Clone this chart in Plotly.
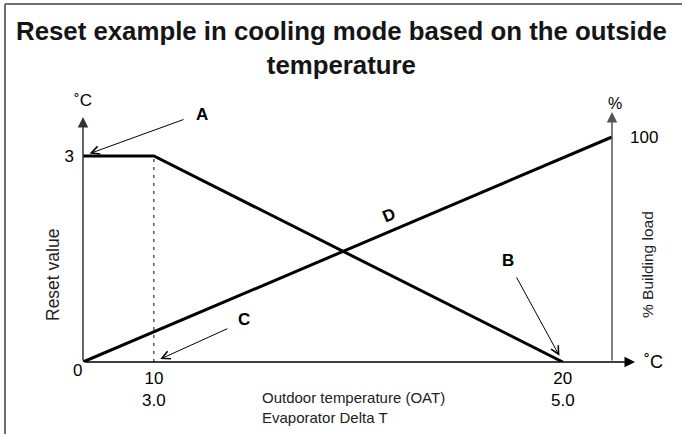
import plotly.graph_objects as go

# Reset schedule (primary axis, degC) against schematic OAT position
reset_x = [0, 13.4, 90.7]
reset_y = [3, 3, 0]

# Building load (secondary axis, %) against the same schematic position
load_x = [0, 100]
load_y = [0, 100]

# Tick labels under the OAT breakpoints
oat_labels = ["10", "20"]
delta_t_labels = ["3.0", "5.0"]

reset_ticks = [3]
load_ticks = [100]

X_END = 104.35      # tip of the horizontal arrow
Y_END = 3.568       # tip of the left arrow (degC scale)
Y2_END = 111.1      # tip of the right arrow (% scale)

FONT = "Liberation Sans, Arial, Helvetica, sans-serif"

fig = go.Figure()

# Dashed guide at the first breakpoint
fig.add_trace(go.Scatter(
    x=[reset_x[1], reset_x[1]], y=[0, reset_y[1]],
    mode="lines", line=dict(color="black", width=1, dash="3px,5px"),
    hoverinfo="skip", showlegend=False))

fig.add_trace(go.Scatter(
    x=reset_x, y=reset_y, mode="lines",
    line=dict(color="black", width=3), showlegend=False))

fig.add_trace(go.Scatter(
    x=load_x, y=load_y, mode="lines", yaxis="y2",
    line=dict(color="black", width=3), showlegend=False))

tick_text = [f"{a}<br>{b}" for a, b in zip(oat_labels, delta_t_labels)]

fig.update_layout(
    width=682, height=434, autosize=False,
    margin=dict(l=83, r=47, t=100, b=72, pad=0),
    paper_bgcolor="white", plot_bgcolor="white",
    font=dict(family=FONT, color="black"),
    xaxis=dict(range=[0, X_END], showgrid=False, zeroline=False, showline=False,
               tickvals=reset_x[1:], ticktext=tick_text, ticks="",
               ticklabelstandoff=4,
               tickfont=dict(size=17), automargin=False, fixedrange=True),
    yaxis=dict(range=[0, 262 / 68.667], showgrid=False, zeroline=False, showline=False,
               tickvals=reset_ticks, ticktext=[str(v) for v in reset_ticks], ticks="",
               ticklabelstandoff=8,
               tickfont=dict(size=17), automargin=False),
    yaxis2=dict(range=[0, 262 / 2.25], overlaying="y", anchor="free",
                position=100 / X_END, side="right",
                showgrid=False, zeroline=False, showline=False,
                tickvals=load_ticks, ticktext=[str(v) for v in load_ticks], ticks="",
                ticklabelstandoff=17,
                tickfont=dict(size=17), automargin=False),
)

ann = []
# Chart heading
ann.append(dict(x=0.5 - 18 / 552, y=(362 - 47.5) / 262, xref="paper", yref="paper",
                xanchor="center", yanchor="middle", align="center",
                text="<b>Reset example in cooling mode based on the outside<br>temperature</b>",
                showarrow=False, font=dict(size=25.8, family=FONT, color="#151515")))

# Axis arrows
ann.append(dict(x=0, y=Y_END, ax=0, ay=0, xref="x", yref="y", axref="x", ayref="y",
                text="", showarrow=True, arrowhead=2, arrowsize=1.4, arrowwidth=1.5,
                arrowcolor="#333"))
ann.append(dict(x=100, y=Y2_END, ax=100, ay=0, xref="x", yref="y2", axref="x", ayref="y2",
                text="", showarrow=True, arrowhead=2, arrowsize=1.4, arrowwidth=1.5,
                arrowcolor="#555"))
ann.append(dict(x=X_END, y=0, ax=0, ay=0, xref="x", yref="y", axref="x", ayref="y",
                text="", showarrow=True, arrowhead=2, arrowsize=1.4, arrowwidth=1.5,
                arrowcolor="black"))

# Callout arrows pointing at the schedule's key points
callouts = [
    ("A", reset_x[0], reset_y[0], 102, -37, 119, 42),
    ("C", reset_x[1], 0, 75, -34, 90, 43),
    ("B", reset_x[2], reset_y[2], -47, -86, -55, 102),
]
for label, px, py, ax, ay, lx, ly in callouts:
    ann.append(dict(x=px, y=py, xref="x", yref="y", ax=ax, ay=ay, text="",
                    showarrow=True, arrowhead=5, arrowsize=1.6, arrowwidth=1,
                    arrowcolor="black", standoff=7))
    ann.append(dict(x=px, y=py, xref="x", yref="y", text=f"<b>{label}</b>",
                    showarrow=False, xshift=lx, yshift=ly,
                    font=dict(size=17, family=FONT)))

# Label on the building load line
d_pos = 57.8
ann.append(dict(x=d_pos, y=d_pos, xref="x", yref="y2", text="<b>D</b>",
                showarrow=False, yshift=16, textangle=-23,
                font=dict(size=17, family=FONT)))

# Origin label and units
ann.append(dict(x=0, y=0, xref="x", yref="y", text="0", showarrow=False,
                xshift=-6, yshift=-8, font=dict(size=17, family=FONT)))
ann.append(dict(x=0, y=Y_END, xref="x", yref="y", text="˚C", showarrow=False,
                yshift=17, font=dict(size=17, family=FONT)))
ann.append(dict(x=100, y=Y2_END, xref="x", yref="y2", text="%", showarrow=False,
                xshift=3, yshift=9, font=dict(size=16, family=FONT)))
ann.append(dict(x=X_END, y=0, xref="x", yref="y", text="˚C", showarrow=False,
                xshift=18, font=dict(size=18, family=FONT)))

# Axis titles
ann.append(dict(x=-30 / 552, y=87 / 262, xref="paper", yref="paper",
                xanchor="center", yanchor="middle",
                text="Reset value", textangle=-90, showarrow=False,
                font=dict(size=17.5, family=FONT, color="#222")))
ann.append(dict(x=564 / 552, y=97 / 262, xref="paper", yref="paper",
                xanchor="center", yanchor="middle",
                text="% Building load", textangle=-90, showarrow=False,
                font=dict(size=15.5, family=FONT, color="#222")))
ann.append(dict(x=177 / 552, y=-45 / 262, xref="paper", yref="paper",
                text="Outdoor temperature (OAT)<br>Evaporator Delta T",
                xanchor="left", yanchor="middle", align="left", showarrow=False,
                font=dict(size=15, family=FONT, color="#222")))

fig.update_layout(annotations=ann)

# Frame lines along the top and left edges
fig.add_shape(type="line", xref="paper", yref="paper",
              x0=-78 / 552, x1=599 / 552, y0=358 / 262, y1=358 / 262,
              line=dict(color="#6e6e6e", width=2))
fig.add_shape(type="line", xref="paper", yref="paper",
              x0=-78 / 552, x1=-78 / 552, y0=358 / 262, y1=-72 / 262,
              line=dict(color="#6e6e6e", width=2))

fig.write_html("out.html")
